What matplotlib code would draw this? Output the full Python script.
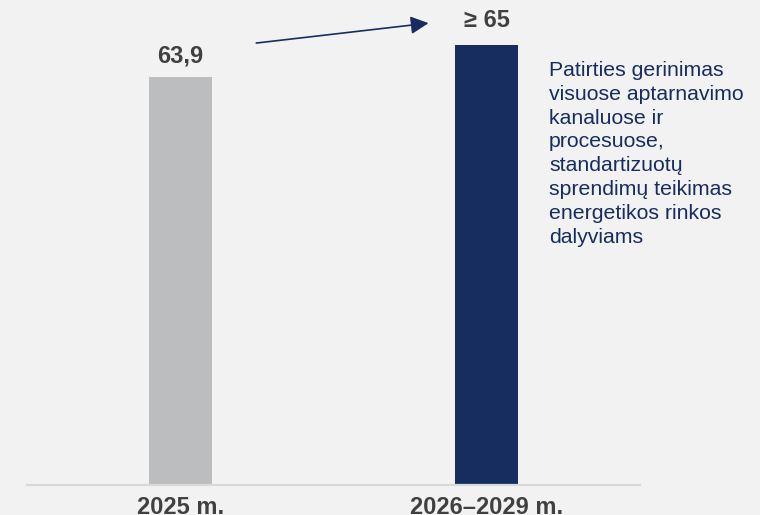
import matplotlib
matplotlib.use("Agg")
import matplotlib.pyplot as plt

plt.rcParams["font.family"] = ["Liberation Sans", "DejaVu Sans"]

# data
categories = ["2025 m.", "2026–2029 m."]
values = [63.9, 65.0]
value_labels = ["63,9", "≥ 65"]
note_lines = [
    "Patirties gerinimas",
    "visuose aptarnavimo",
    "kanaluose ir",
    "procesuose,",
    "standartizuotų",
    "sprendimų teikimas",
    "energetikos rinkos",
    "dalyviams",
]

BG = "#f2f2f2"
GREY = "#bcbdbf"
NAVY = "#172d5f"
TEXT_DARK = "#404040"

fig = plt.figure(figsize=(7.6, 5.15), dpi=100, facecolor=BG)
ax = fig.add_axes([27 / 760, 30.5 / 515, 613 / 760, 484.5 / 515])
ax.set_facecolor(BG)

x = list(range(len(categories)))
ax.bar(x, values, width=0.206, color=[GREY, NAVY], zorder=2)
ax.set_xlim(-0.5, 1.5)
ax.set_ylim(50, 66.54)

# value labels above bars
offsets = [10.8, 13.0]
for xi, v, lab, off in zip(x, values, value_labels, offsets):
    ax.annotate(lab, (xi, v), xytext=(0, off), textcoords="offset points",
                ha="center", va="baseline", fontsize=17, fontweight="bold",
                color=TEXT_DARK)

# growth arrow between the two bars
ax.annotate("", xy=(0.81, 65.75), xytext=(0.248, 65.07),
            arrowprops=dict(arrowstyle="-|>,head_length=0.4,head_width=0.2",
                            mutation_scale=27, color=NAVY, lw=1.2,
                            shrinkA=0, shrinkB=0),
            annotation_clip=False)

ax.set_xticks(x)
ax.set_xticklabels(categories, fontsize=17, fontweight="bold", color=TEXT_DARK)
ax.tick_params(axis="x", length=0, pad=8)
ax.set_yticks([])
for side in ("top", "right", "left"):
    ax.spines[side].set_visible(False)
ax.spines["bottom"].set_color("#d9d9d9")
ax.spines["bottom"].set_linewidth(1.6)

fig.text(549 / 760, 1 - 61 / 515, "\n".join(note_lines), ha="left", va="top",
         fontsize=15.3, color=NAVY, linespacing=1.32)

fig.savefig("out.png", dpi=100, facecolor=BG)
